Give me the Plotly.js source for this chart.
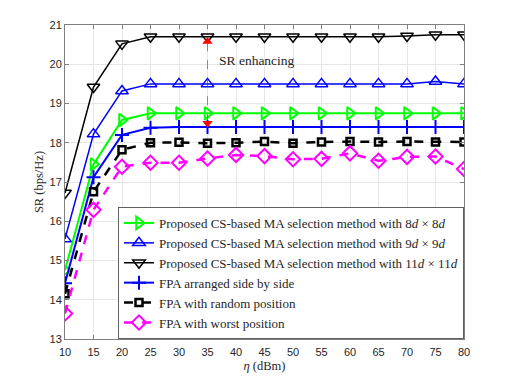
<!DOCTYPE html>
<html>
<head>
<meta charset="utf-8">
<script src="https://cdn.plot.ly/plotly-3.0.1.min.js"></script>
<style>
  html, body { margin: 0; padding: 0; background: #fff; }
  #myDiv { width: 512px; height: 376px; }
</style>
</head>
<body>
<div id="myDiv"></div>
<script>
// transmit power eta (dBm)
var eta = [10, 15, 20, 25, 30, 35, 40, 45, 50, 55, 60, 65, 70, 75, 80];

// SR (bps/Hz) per scheme
var sr8d = [14.75, 17.45, 18.58, 18.75, 18.75, 18.75, 18.75, 18.75, 18.75, 18.75, 18.75, 18.75, 18.75, 18.75, 18.75];
var sr9d = [15.55, 18.22, 19.32, 19.5, 19.5, 19.5, 19.5, 19.5, 19.5, 19.5, 19.5, 19.5, 19.5, 19.56, 19.5];
var sr11d = [16.72, 19.42, 20.52, 20.7, 20.7, 20.7, 20.7, 20.7, 20.7, 20.7, 20.7, 20.7, 20.72, 20.75, 20.75];
var srSide = [14.42, 17.12, 18.2, 18.38, 18.4, 18.4, 18.4, 18.4, 18.4, 18.4, 18.4, 18.4, 18.4, 18.4, 18.4];
var srRandom = [14.15, 16.75, 17.82, 18.0, 18.01, 17.99, 18.0, 18.03, 17.99, 18.02, 18.03, 18.02, 18.03, 18.02, 18.02];
var srWorst = [13.65, 16.29, 17.39, 17.49, 17.49, 17.6, 17.69, 17.66, 17.58, 17.59, 17.73, 17.54, 17.64, 17.65, 17.33];

var names = [
  "Proposed CS-based MA selection method with 8<i>d</i> × 8<i>d</i>",
  "Proposed CS-based MA selection method with 9<i>d</i> × 9<i>d</i>",
  "Proposed CS-based MA selection method with 11<i>d</i> × 11<i>d</i>",
  "FPA arranged side by side",
  "FPA with random position",
  "FPA with worst position"
];

// "SR enhancing" arrow
var arrowX = [35, 35];
var arrowY = [18.5, 20.58];

var serif = "Liberation Serif, Times New Roman, serif";

var data = [
  {
    x: eta, y: sr8d, name: names[0], type: "scatter", mode: "lines+markers",
    line: { color: "#00ff00", width: 2 },
    marker: { symbol: "triangle-right-open", size: 11, color: "#00ff00", line: { width: 2 } },
  },
  {
    x: eta, y: sr9d, name: names[1], type: "scatter", mode: "lines+markers",
    line: { color: "#0000ff", width: 1.5 },
    marker: { symbol: "triangle-up-open", size: 11, color: "#0000ff", line: { width: 1.5 } },
  },
  {
    x: eta, y: sr11d, name: names[2], type: "scatter", mode: "lines+markers",
    line: { color: "#000000", width: 1.5 },
    marker: { symbol: "triangle-down-open", size: 11, color: "#000000", line: { width: 1.5 } },
  },
  {
    x: eta, y: srSide, name: names[3], type: "scatter", mode: "lines+markers",
    line: { color: "#0000ff", width: 2 },
    marker: { symbol: "cross-thin-open", size: 10, color: "#0000ff", line: { width: 2, color: "#0000ff" } },
  },
  {
    x: eta, y: srRandom, name: names[4], type: "scatter", mode: "lines+markers",
    line: { color: "#000000", width: 2.5, dash: "dash" },
    marker: { symbol: "square-open", size: 7, color: "#000000", line: { width: 2.5 } },
  },
  {
    x: eta, y: srWorst, name: names[5], type: "scatter", mode: "lines+markers",
    line: { color: "#ff00ff", width: 2.5, dash: "dash" },
    marker: { symbol: "diamond-open", size: 11, color: "#ff00ff", line: { width: 2 } },
  },
  {
    x: arrowX, y: arrowY, type: "scatter", mode: "lines+markers",
    showlegend: false, hoverinfo: "skip",
    line: { color: "rgba(255,0,0,0.6)", width: 1, dash: "dash" },
    marker: { symbol: ["triangle-down", "triangle-up"], size: 9, color: "#ff0000" },
  },
];

var axisCommon = {
  showgrid: true,
  gridcolor: "#e6e6e6",
  showline: true,
  linecolor: "#808080",
  linewidth: 1,
  mirror: "ticks",
  ticks: "inside",
  ticklen: 4,
  tickcolor: "#808080",
  zeroline: false,
  tickfont: { family: "Liberation Sans, Arial", size: 11, color: "#262626" },
};

var layout = {
  width: 512,
  height: 376,
  margin: { l: 65, r: 48, t: 25, b: 37 },
  paper_bgcolor: "#ffffff",
  plot_bgcolor: "#ffffff",
  showlegend: true,
  legend: {
    x: 1, xanchor: "right", y: 0, yanchor: "bottom",
    bgcolor: "#ffffff", bordercolor: "#606060", borderwidth: 1,
    font: { family: serif, size: 13, color: "#262626" },
    tracegroupgap: 0,
    itemwidth: 30,
  },
  xaxis: Object.assign({}, axisCommon, {
    range: [10, 80],
    tickvals: eta,
    ticklabelstandoff: 3,
    title: { text: "<i>η</i> (dBm)", standoff: 4, font: { family: serif, size: 12.5, color: "#262626" } },
  }),
  yaxis: Object.assign({}, axisCommon, {
    range: [13, 21],
    dtick: 1,
    title: { text: "SR (bps/Hz)", standoff: 3, font: { family: serif, size: 12.5, color: "#262626" } },
  }),
  annotations: [
    {
      x: 36.7, y: 20.1, xref: "x", yref: "y",
      text: "SR enhancing", showarrow: false,
      xanchor: "left", yanchor: "middle",
      font: { family: serif, size: 13.5, color: "#262626" },
    },
  ],
};

Plotly.newPlot("myDiv", data, layout, { displayModeBar: false, staticPlot: true });
</script>
</body>
</html>
